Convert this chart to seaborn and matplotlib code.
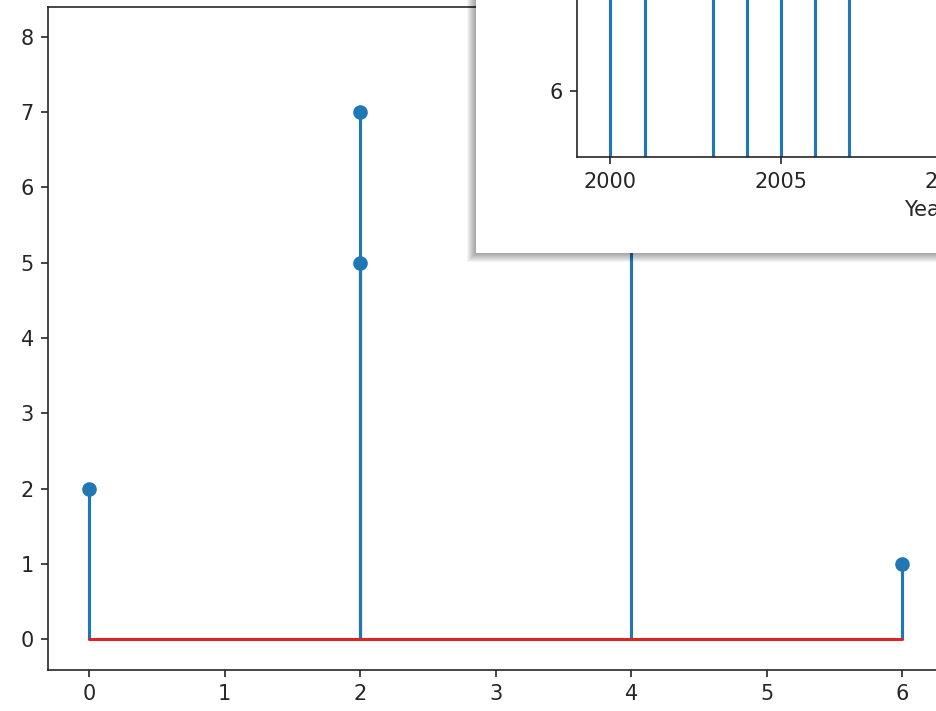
import matplotlib
matplotlib.use("Agg")
import matplotlib.pyplot as plt
from matplotlib.patches import Rectangle
import seaborn as sns

# main stem data
main_x = [0, 2, 2, 4, 6]
main_y = [2, 7, 5, 8, 1]

# inset stem data (tops are outside the visible window)
inset_years = [2000, 2001, 2003, 2004, 2005, 2006, 2007, 2011, 2013, 2015, 2017, 2019]
inset_vals = [9.0, 9.5, 8.8, 10.0, 9.2, 9.7, 8.9, 9.4, 10.1, 9.0, 9.6, 9.3]
inset_yticks = [6, 8, 10]

sns.set_style("ticks", rc={"axes.edgecolor": "0.15", "xtick.major.size": 3.5,
                           "ytick.major.size": 3.5})
plt.rcParams["font.family"] = ["DejaVu Sans"]

W, H = 936, 711
fig = plt.figure(figsize=(W / 150, H / 150), dpi=150)

# main axes (extends past right edge like the reference)
ax = fig.add_axes([48.4 / W, (H - 669.5) / H, (943 - 48.4) / W, 663 / H])
ax.stem(main_x, main_y, linefmt="C0-", markerfmt="C0o", basefmt="C3-")
ax.set_xticks(range(0, 7))
ax.set_yticks(range(0, 9))
ax.set_ylim(-0.4, 8.4)
ax.set_xlim(-0.3, 6.3)

# framed box with soft shadow (left/bottom)
bx0, by0 = 476 / W, (H - 253) / H
for k in range(1, 10):
    fig.add_artist(Rectangle((bx0 - k / W, by0 - k / H), 2.0, 2.0,
                             transform=fig.transFigure, facecolor="black",
                             edgecolor="none", alpha=0.045, zorder=1))
fig.add_artist(Rectangle((bx0, by0), 2.0, 2.0, transform=fig.transFigure,
                         facecolor="white", edgecolor="none", zorder=2))

# inset axes
unit = 55.0
ylo, yhi = 4.8, 10.5
in_bottom = H - 157
in_h = (yhi - ylo) * unit
x_lo, x_hi = 1999.02, 2019.5
in_w = (x_hi - x_lo) * 34.1
axin = fig.add_axes([577 / W, in_bottom / H, in_w / W, in_h / H])
axin.set_zorder(3)
axin.stem(inset_years, inset_vals, linefmt="C0-", markerfmt="C0o", basefmt="C3-")
axin.set_ylim(ylo, yhi)
axin.set_xlim(x_lo, x_hi)
axin.set_xticks([2000, 2005, 2010, 2015])
axin.set_yticks(inset_yticks)
axin.set_xlabel("Year")

fig.savefig("out.png", dpi=150)
